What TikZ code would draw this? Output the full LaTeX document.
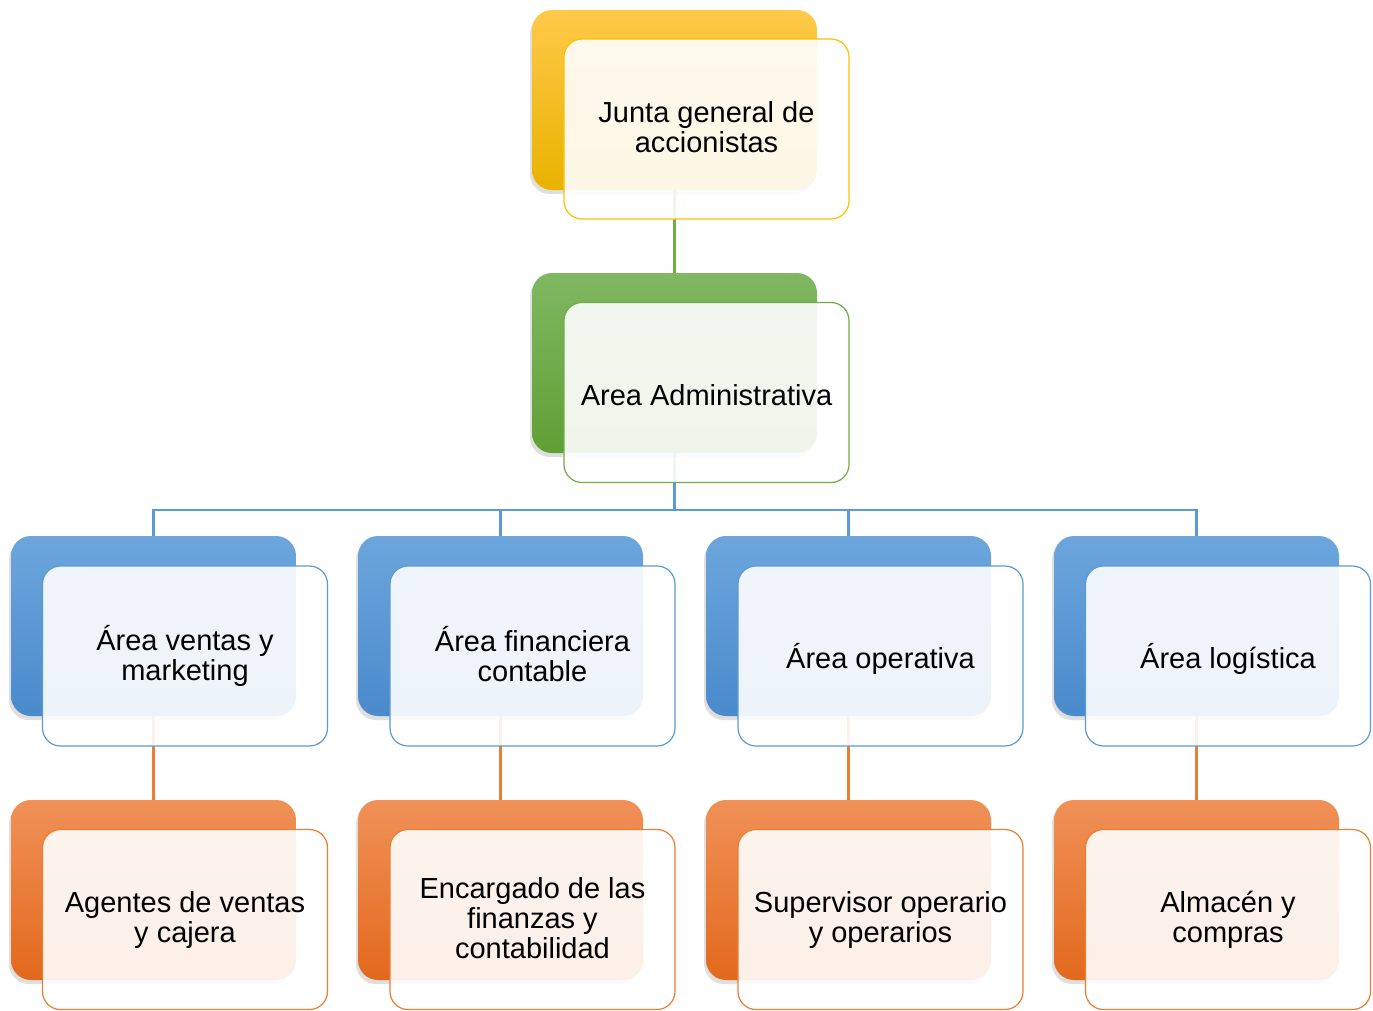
\documentclass[tikz,border=0pt]{standalone}
\usepackage{fontspec}
\setmainfont{Liberation Sans}
\usetikzlibrary{shadows,backgrounds}
\definecolor{yTop}{HTML}{FFC94A}
\definecolor{yMid}{HTML}{FFC000}
\definecolor{yBot}{HTML}{E9B200}
\definecolor{yLine}{HTML}{FFC000}
\definecolor{gTop}{HTML}{80B862}
\definecolor{gMid}{HTML}{70AD47}
\definecolor{gBot}{HTML}{5FA034}
\definecolor{gLine}{HTML}{70AD47}
\definecolor{bTop}{HTML}{6CA6DD}
\definecolor{bMid}{HTML}{5B9BD5}
\definecolor{bBot}{HTML}{4A8ACB}
\definecolor{bLine}{HTML}{5B9BD5}
\definecolor{oTop}{HTML}{F09158}
\definecolor{oMid}{HTML}{ED7D31}
\definecolor{oBot}{HTML}{E2691C}
\definecolor{oLine}{HTML}{ED7D31}
\begin{document}
\begin{tikzpicture}[x=1pt,y=-1pt,
  backbox/.style={rounded corners=20pt, minimum width=285pt, minimum height=180pt, inner sep=0pt,
    drop shadow={shadow xshift=-2pt,shadow yshift=-4pt,opacity=0.25}},
  yback/.style={backbox, top color=yTop, middle color=yMid, bottom color=yBot},
  gback/.style={backbox, top color=gTop, middle color=gMid, bottom color=gBot},
  bback/.style={backbox, top color=bTop, middle color=bMid, bottom color=bBot},
  oback/.style={backbox, top color=oTop, middle color=oMid, bottom color=oBot},
  frontbox/.style={draw=#1, line width=1.2pt, rounded corners=18pt, fill=white, fill opacity=0.9,
    text opacity=1, draw opacity=1, minimum width=285pt, minimum height=180pt, inner sep=0pt,
    align=center, font=\fontsize{29}{30}\selectfont,
    execute at begin node={\rule{0pt}{30pt}},
    execute at end node={\rule[-4pt]{0pt}{4pt}}},
  conn/.style={draw=#1, line width=2.5pt}
]
\useasboundingbox (0,0) rectangle (1373,1010);

% top
\node[yback] (jB) at (674.5,100) {};
\node[frontbox=yLine] (jF) at (706.5,129) {Junta general de\\accionistas};
% admin
\node[gback] (aB) at (674.5,363) {};
\node[frontbox=gLine] (aF) at (706.5,392.5) {Area Administrativa};

% blue row
\node[bback] (v1B) at (153.5,626) {};
\node[frontbox=bLine] (v1F) at (185,656) {Área ventas y\\marketing};
\node[bback] (v2B) at (500.5,626) {};
\node[frontbox=bLine] (v2F) at (532.5,656) {Área financiera\\contable};
\node[bback] (v3B) at (848.5,626) {};
\node[frontbox=bLine] (v3F) at (880.5,656) {Área operativa};
\node[bback] (v4B) at (1196.5,626) {};
\node[frontbox=bLine] (v4F) at (1228,656) {Área logística};

% orange row
\node[oback] (w1B) at (153.5,890) {};
\node[frontbox=oLine] (w1F) at (185,919.5) {Agentes de ventas\\y cajera};
\node[oback] (w2B) at (500.5,890) {};
\node[frontbox=oLine] (w2F) at (532.5,919.5) {Encargado de las\\finanzas y\\contabilidad};
\node[oback] (w3B) at (848.5,890) {};
\node[frontbox=oLine] (w3F) at (880.5,919.5) {Supervisor operario\\y operarios};
\node[oback] (w4B) at (1196.5,890) {};
\node[frontbox=oLine] (w4F) at (1228,919.5) {Almacén y\\compras};

\coordinate (bus) at (674.5,510);
\begin{scope}[on background layer]
  \draw[conn=gLine] (jB.south) -- (aB.north);
  \draw[conn=bLine] (aB.south) -- (bus) -| (v1B.north);
  \draw[conn=bLine] (bus) -| (v2B.north);
  \draw[conn=bLine] (bus) -| (v3B.north);
  \draw[conn=bLine] (bus) -| (v4B.north);
  \draw[conn=oLine] (v1B.south) -- (w1B.north);
  \draw[conn=oLine] (v2B.south) -- (w2B.north);
  \draw[conn=oLine] (v3B.south) -- (w3B.north);
  \draw[conn=oLine] (v4B.south) -- (w4B.north);
\end{scope}
\end{tikzpicture}
\end{document}
